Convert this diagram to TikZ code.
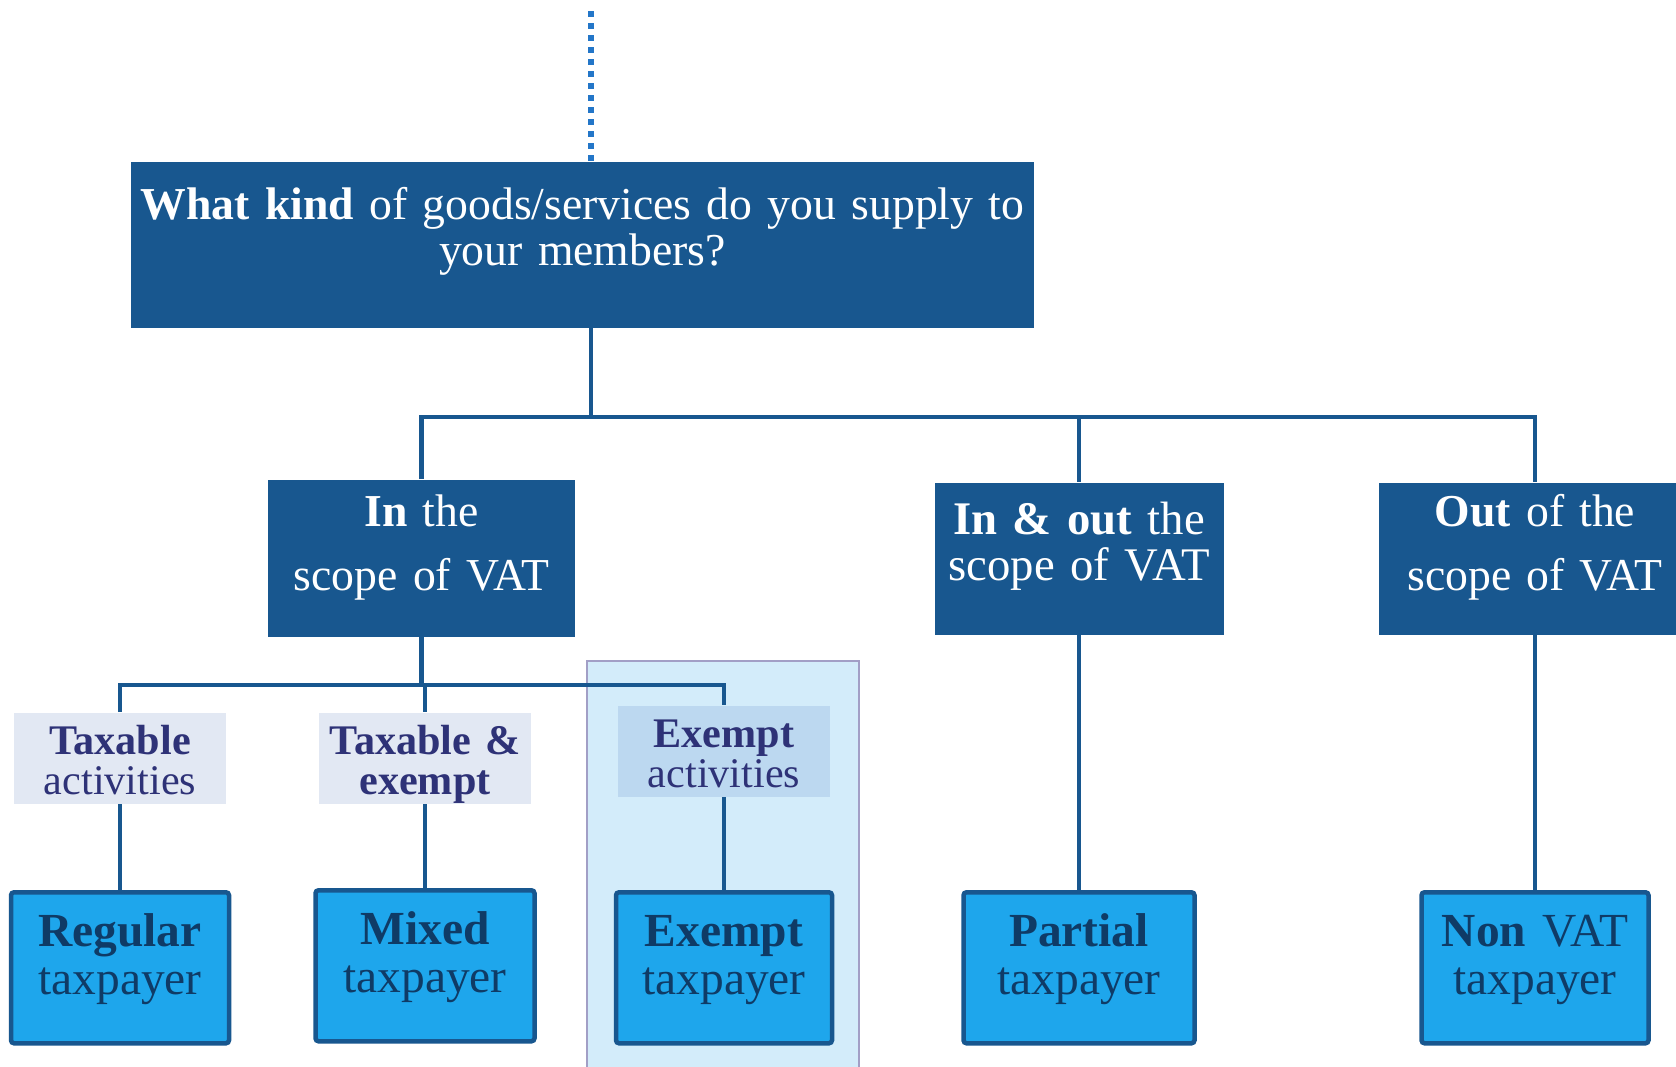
\documentclass[tikz,border=0pt]{standalone}
\usepackage{fontspec}
\setmainfont{Liberation Serif}

\definecolor{navy}{HTML}{18578F}
\definecolor{dotblue}{HTML}{2376C8}
\definecolor{payfill}{HTML}{1EA6EC}
\definecolor{payink}{HTML}{0F3B66}
\definecolor{labink}{HTML}{2E3277}
\definecolor{labfill}{HTML}{E2E8F3}
\definecolor{labfillb}{HTML}{BCD8F0}
\definecolor{hifill}{HTML}{D3ECFA}
\definecolor{hiedge}{HTML}{A29FC6}

\begin{document}
\begin{tikzpicture}[x=0.1mm,y=-0.1mm,
    wire/.style={draw=navy,line width=0.45mm},
    dotwire/.style={draw=dotblue,line width=0.55mm,dash pattern=on 0.6mm off 0.6mm},
    ask/.style={fill=navy,text=white,anchor=north,inner sep=0pt,align=center},
    vatbox/.style={ask,font=\fontsize{13}{18.2}\selectfont},
    kind/.style={fill=labfill,text=labink,anchor=north,inner sep=0pt,align=center,
        text width=21.2mm,text height=4.2mm,text depth=4.9mm,font=\fontsize{12}{11.4}\selectfont},
    payer/.style={draw=navy,line width=0.45mm,fill=payfill,text=payink,anchor=north,
        inner sep=0pt,align=center,text height=5.4mm,text depth=9.7mm,rounded corners=0.3mm,
        font=\fontsize{13.5}{13.7}\selectfont}]
    \clip (0,0) rectangle (1676,1066);
    \fill[white] (0,0) rectangle (1676,1066);
    \draw[fill=hifill,draw=hiedge,line width=0.2mm] (587,661) rectangle (859,1080);

    \node[ask,text width=90.3mm,text height=5.8mm,text depth=10.8mm,
        font=\fontsize{13}{13.1}\selectfont] (q) at (582.5,161)
        {\makebox[\linewidth]{\textbf{What kind} of goods/services do you supply to}\\your members?};

    \node[vatbox,text width=30.7mm,text height=4.7mm,text depth=11mm] (in) at (421.5,479) {\textbf{In} the\\scope of VAT};
    \node[vatbox,text width=28.9mm,text height=5.2mm,text depth=10mm,
        font=\fontsize{13.3}{13.1}\selectfont] (io) at (1079,482) {\textbf{In \& out} the\\scope of VAT};
    \node[vatbox,text width=31.2mm,text height=4.4mm,text depth=10.8mm] (out) at (1535,482) {\textbf{Out} of the\\scope of VAT};

    \node[kind] (ta) at (120,712) {\textbf{Taxable}\\activities};
    \node[kind] (te) at (425,712) {\textbf{Taxable \&}\\\textbf{exempt}};
    \node[kind,fill=labfillb] (ea) at (724,705) {\textbf{Exempt}\\activities};

    \node[payer,text width=21.8mm] (reg)  at (120,890)  {\textbf{Regular}\\taxpayer};
    \node[payer,text width=21.9mm] (mix)  at (425,888)  {\textbf{Mixed}\\taxpayer};
    \node[payer,text width=21.6mm] (ex)   at (724,890)  {\textbf{Exempt}\\taxpayer};
    \node[payer,text width=23.1mm] (part) at (1079,890) {\textbf{Partial}\\taxpayer};
    \node[payer,text width=22.7mm] (non)  at (1535,890) {\textbf{Non} VAT\\taxpayer};

    % connectors
    \coordinate (top) at (591,11);
    \coordinate (spine) at (591,417);
    \coordinate (fork) at (421.5,685);
    \draw[dotwire] (top) -- (top |- q.north);
    \draw[wire] (top |- q.south) -- (spine);
    \draw[wire] (in.north) |- (spine) -| (out.north);
    \draw[wire] (spine) -| (io.north);

    \draw[wire] (in.south) -- (fork);
    \draw[wire] (ta.north) |- (fork) -| (ea.north);
    \draw[wire] (fork) -| (te.north);

    \draw[wire] (ta) -- (reg);
    \draw[wire] (te) -- (mix);
    \draw[wire] (ea) -- (ex);
    \draw[wire] (io) -- (part);
    \draw[wire] (out) -- (non);
\end{tikzpicture}
\end{document}
